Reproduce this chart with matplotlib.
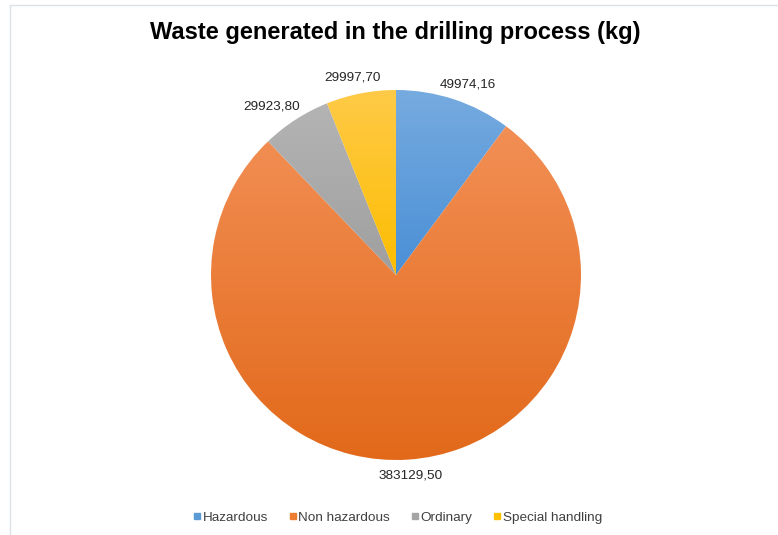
import numpy as np
import matplotlib
matplotlib.use("Agg")
from matplotlib import pyplot as plt
from matplotlib.colors import to_rgb
from matplotlib.lines import Line2D
from matplotlib.patches import Rectangle

# data
categories = ["Hazardous", "Non hazardous", "Ordinary", "Special handling"]
values = [49974.16, 383129.50, 29923.80, 29997.70]
labels = ["49974,16", "383129,50", "29923,80", "29997,70"]

# top / bottom colours of the gradient fill
top_colors = ["#76abdf", "#f28f55", "#b4b4b4", "#ffca48"]
bot_colors = ["#4a8fd6", "#e2691a", "#9f9f9f", "#fcbd00"]
legend_colors = ["#5b9bd5", "#ed7d31", "#a5a5a5", "#ffc000"]

plt.rcParams['font.family'] = ['Liberation Sans', 'DejaVu Sans']

W, H = 778, 535
fig = plt.figure(figsize=(W/100, H/100), dpi=100)
fig.patch.set_facecolor("white")

# outer chart frame
fig.patches.append(Rectangle((9.5/W, -0.05), 1.2, 1 - 4.5/H + 0.05,
                             transform=fig.transFigure, fill=False,
                             edgecolor="#dce1e9", linewidth=1.0))

cx, cy, r = 396, 535 - 275, 185
ax = fig.add_axes([(cx - r)/W, (cy - r)/H, 2*r/W, 2*r/H])
ax.axis("off")

wedges, _ = ax.pie(values, startangle=90, counterclock=False, radius=1,
                   center=(0, 0), colors=legend_colors,
                   wedgeprops=dict(linewidth=0))
ax.set_aspect("auto")

# vertical gradient in each slice
for w, c1, c2 in zip(wedges, top_colors, bot_colors):
    ext = w.get_path().get_extents()
    t = np.linspace(0, 1, 256)[:, None]
    img = (1 - t) * np.array(to_rgb(c1)) + t * np.array(to_rgb(c2))
    img = img[:, None, :].repeat(2, axis=1)
    im = ax.imshow(img, extent=(ext.x0, ext.x1, ext.y0, ext.y1),
                   aspect="auto", origin="upper", zorder=2)
    im.set_clip_path(w)
    w.set_facecolor("none")

ax.set_xlim(-1, 1)
ax.set_ylim(-1, 1)

# data labels just outside the slices (box touching a ring round the pie)
gap, half_w, half_h = 9 / r, 35 / r, 7 / r
for w, lab in zip(wedges, labels):
    mid = np.deg2rad((w.theta1 + w.theta2) / 2)
    c, s = np.cos(mid), np.sin(mid)
    x = (1 + gap) * c + half_w * c
    y = (1 + gap) * s + half_h * s
    ax.text(x, y, lab, ha="center", va="center",
            fontsize=9.7, color="#262626", clip_on=False)

fig.text(0.508, 1 - 33/H, "Waste generated in the drilling process (kg)",
         ha="center", va="center", fontsize=17, fontweight="bold", color="black")

handles = [Line2D([], [], marker="s", linestyle="none", markersize=5,
                  markerfacecolor=c, markeredgecolor=c) for c in legend_colors]
fig.legend(handles, categories, loc="center", bbox_to_anchor=(398/W, 1 - 518/H),
           ncol=4, frameon=False, fontsize=9.7, handletextpad=0.15,
           columnspacing=1.6, labelcolor="#404040", handlelength=0.5)

fig.savefig("out.png", dpi=100)
